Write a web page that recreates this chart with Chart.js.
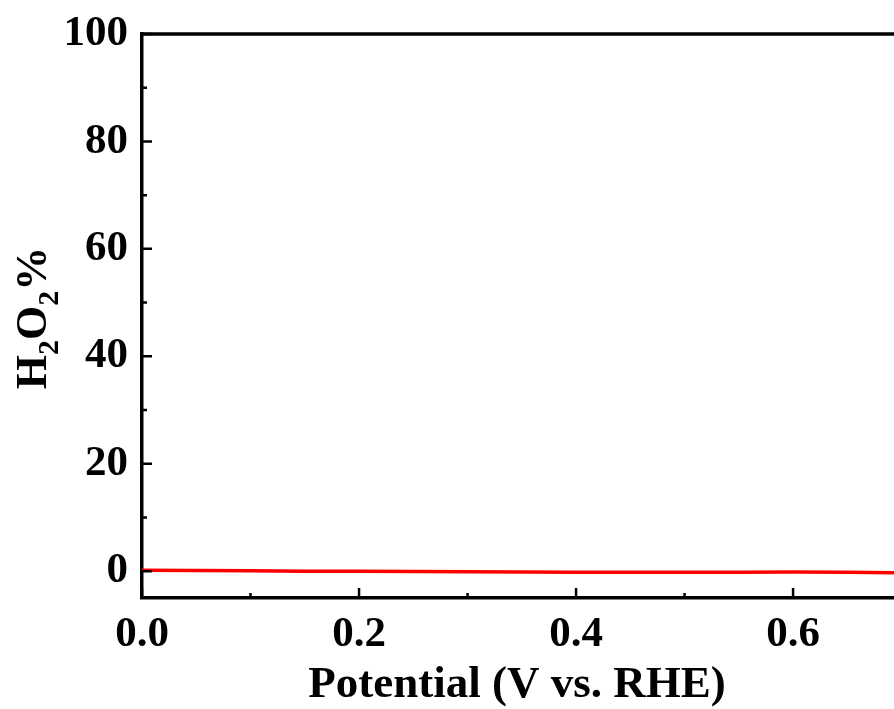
<!DOCTYPE html>
<html>
<head>
<meta charset="UTF-8">
<title>H2O2 %</title>
<script src="https://cdn.jsdelivr.net/npm/chart.js"></script>
<style>
  html, body { margin: 0; padding: 0; background: #fff; }
  #wrap { width: 894px; height: 709px; }
</style>
</head>
<body>
<div id="wrap"><canvas id="grafico"></canvas></div>
<script>
  // dados
  const potencial = [0, 0.05, 0.1, 0.15, 0.2, 0.25, 0.3, 0.35, 0.4, 0.45, 0.5, 0.55, 0.6, 0.65, 0.693];
  const h2o2 = [0.15, 0.1, 0.05, 0.0, 0.0, -0.05, -0.1, -0.15, -0.2, -0.2, -0.2, -0.2, -0.15, -0.2, -0.3];
  const xTicks = [0, 0.2, 0.4, 0.6];
  const xMinor = [0.1, 0.3, 0.5];
  const yTicks = [0, 20, 40, 60, 80, 100];
  const yMinor = [10, 30, 50, 70, 90];

  const fonte = '"Liberation Serif", "Times New Roman", serif';

  // ticks para dentro, borda de cima e titulos dos eixos
  const eixos = {
    id: 'eixos',
    afterDraw(chart) {
      const ctx = chart.ctx;
      const x = chart.scales.x, y = chart.scales.y;
      const a = chart.chartArea;
      ctx.save();
      ctx.strokeStyle = '#000';
      ctx.lineWidth = 3.5;
      ctx.beginPath();
      ctx.moveTo(a.left - 1.75, a.top);
      ctx.lineTo(a.right + 2, a.top);
      ctx.stroke();
      ctx.lineWidth = 2.5;
      ctx.beginPath();
      xTicks.forEach(v => { const p = x.getPixelForValue(v); ctx.moveTo(p, a.bottom); ctx.lineTo(p, a.bottom - 10); });
      xMinor.forEach(v => { const p = x.getPixelForValue(v); ctx.moveTo(p, a.bottom); ctx.lineTo(p, a.bottom - 5); });
      yTicks.forEach(v => { const p = y.getPixelForValue(v); ctx.moveTo(a.left, p); ctx.lineTo(a.left + 10, p); });
      yMinor.forEach(v => { const p = y.getPixelForValue(v); ctx.moveTo(a.left, p); ctx.lineTo(a.left + 5, p); });
      ctx.stroke();

      ctx.fillStyle = '#000';
      // titulo eixo x
      ctx.font = 'bold 45px ' + fonte;
      ctx.textAlign = 'center';
      ctx.textBaseline = 'alphabetic';
      ctx.fillText('Potential (V vs. RHE)', 517, 697);

      // titulo eixo y com subscritos
      ctx.translate(46, 318);
      ctx.rotate(-Math.PI / 2);
      const partes = [['H', 0], ['2', 1], ['O', 0], ['2', 1], ['%', 0]];
      let total = 0;
      partes.forEach(p => {
        ctx.font = 'bold ' + (p[1] ? 30 : 44) + 'px ' + fonte;
        total += ctx.measureText(p[0]).width;
      });
      let cx = -total / 2;
      ctx.textAlign = 'left';
      partes.forEach(p => {
        ctx.font = 'bold ' + (p[1] ? 30 : 44) + 'px ' + fonte;
        ctx.fillText(p[0], cx, p[1] ? 12 : 0);
        cx += ctx.measureText(p[0]).width;
      });
      ctx.restore();
    }
  };

  const config = {
    type: 'line',
    data: {
      datasets: [{
        data: potencial.map((v, i) => ({ x: v, y: h2o2[i] })),
        borderColor: '#ff0000',
        borderWidth: 3.5,
        pointRadius: 0,
        tension: 0,
        clip: false
      }]
    },
    options: {
      responsive: true,
      maintainAspectRatio: false,
      animation: false,
      layout: { padding: { top: 34, right: 0, left: 0, bottom: 0 } },
      plugins: { legend: { display: false }, tooltip: { enabled: false } },
      scales: {
        x: {
          type: 'linear',
          min: 0,
          max: 0.693,
          afterFit(s) { s.height = 111; },
          afterBuildTicks(s) { s.ticks = xTicks.map(v => ({ value: v })); },
          grid: { display: false, drawTicks: false },
          border: { display: true, color: '#000', width: 3.5 },
          ticks: {
            padding: 11,
            color: '#000',
            font: { family: fonte, size: 43, weight: 'bold' },
            callback: v => v.toFixed(1)
          }
        },
        y: {
          min: -5,
          max: 100,
          afterFit(s) { s.width = 142; s.paddingTop = 0; s.paddingBottom = 0; },
          afterBuildTicks(s) { s.ticks = yTicks.map(v => ({ value: v })); },
          grid: { display: false, drawTicks: false },
          border: { display: true, color: '#000', width: 3.5 },
          ticks: {
            padding: 14,
            color: '#000',
            font: { family: fonte, size: 43, weight: 'bold', lineHeight: 1 }
          }
        }
      }
    },
    plugins: [eixos]
  };

  new Chart(document.getElementById('grafico'), config);
</script>
</body>
</html>
